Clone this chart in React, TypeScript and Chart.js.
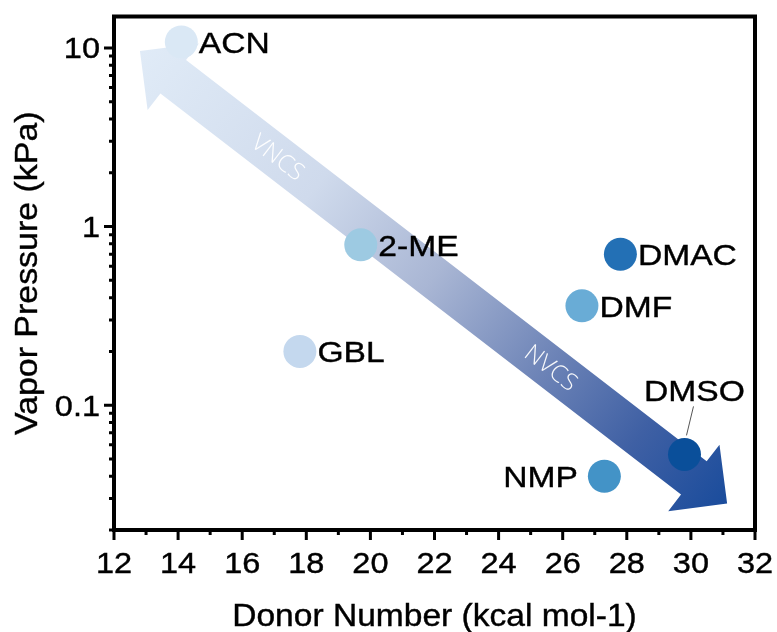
import { useEffect, useRef } from "react";
import { Chart, registerables } from "chart.js";

Chart.register(...registerables);

// Solvents: Gutmann donor number vs. vapor pressure
const solvents = ["ACN", "GBL", "2-ME", "DMF", "DMAC", "NMP", "DMSO"];
const donorNumber = [14.1, 17.8, 19.7, 26.6, 27.8, 27.3, 29.8];
const vaporPressure = [10.8, 0.2, 0.79, 0.36, 0.7, 0.04, 0.053];
const pointColors = ["#dae8f5", "#c4d8ee", "#9dcae2", "#69acd6", "#2370b5", "#4393c7", "#0a4f9a"];

// Axis ranges and ticks
const xRange = [12, 32];
const yRange = [0.02, 15];
const xMajorTicks = [12, 14, 16, 18, 20, 22, 24, 26, 28, 30, 32];
const xMinorTicks = [13, 15, 17, 19, 21, 23, 25, 27, 29, 31];
const yMajorTicks = [0.1, 1, 10];
const yMinorTicks = [
  0.02, 0.03, 0.04, 0.05, 0.06, 0.07, 0.08, 0.09,
  0.2, 0.3, 0.4, 0.5, 0.6, 0.7, 0.8, 0.9,
  2, 3, 4, 5, 6, 7, 8, 9,
];
const yTickLabels = ["0.1", "1", "10"];

// Trend arrow: end points in data units (upper-left tip, lower-right tip)
const arrowFrom = { x: 12.81, y: 9.6 };
const arrowTo = { x: 31.13, y: 0.0281 };
const arrowLabels = [
  { text: "VNCS", at: 0.235 },
  { text: "NVCS", at: 0.7 },
];

const xTitle = "Donor Number (kcal mol-1)";
const yTitle = "Vapor Pressure (kPa)";

// where each solvent name sits relative to its marker
const labelSide: Record<string, "right" | "left" | "above"> = {
  ACN: "right",
  GBL: "right",
  "2-ME": "right",
  DMF: "right",
  DMAC: "right",
  NMP: "left",
  DMSO: "above",
};

const FONT = '"Liberation Sans", Arial, Helvetica, sans-serif';
const POINT_RADIUS = 16.5;

function drawText(
  ctx: CanvasRenderingContext2D,
  text: string,
  x: number,
  y: number,
  align: CanvasTextAlign,
  size: number,
  rotation = 0,
  stretch = 1.12
) {
  ctx.save();
  ctx.translate(x, y);
  ctx.rotate(rotation);
  ctx.scale(stretch, 1);
  ctx.font = `${size}px ${FONT}`;
  ctx.fillStyle = "#000";
  ctx.strokeStyle = "#000";
  ctx.lineWidth = 0.4;
  ctx.textAlign = align;
  ctx.textBaseline = "alphabetic";
  ctx.fillText(text, 0, 0);
  ctx.strokeText(text, 0, 0);
  ctx.restore();
}

const arrowPlugin = {
  id: "trendArrow",
  beforeDatasetsDraw(chart: any) {
    const { ctx, scales } = chart;
    const x0 = scales.x.getPixelForValue(arrowFrom.x);
    const y0 = scales.y.getPixelForValue(arrowFrom.y);
    const x1 = scales.x.getPixelForValue(arrowTo.x);
    const y1 = scales.y.getPixelForValue(arrowTo.y);
    const len = Math.hypot(x1 - x0, y1 - y0);
    const ux = (x1 - x0) / len;
    const uy = (y1 - y0) / len;
    const nx = -uy;
    const ny = ux;
    const headLen = 42;
    const headHalf = 42;
    const shaftHalf = 21;
    const p = (base: [number, number], along: number, side: number): [number, number] => [
      base[0] + ux * along + nx * side,
      base[1] + uy * along + ny * side,
    ];
    const A: [number, number] = [x0, y0];
    const B: [number, number] = [x1, y1];
    const pts = [
      A,
      p(A, headLen, headHalf),
      p(A, headLen, shaftHalf),
      p(B, -headLen, shaftHalf),
      p(B, -headLen, headHalf),
      B,
      p(B, -headLen, -headHalf),
      p(B, -headLen, -shaftHalf),
      p(A, headLen, -shaftHalf),
      p(A, headLen, -headHalf),
    ];
    const grad = ctx.createLinearGradient(x0, y0, x1, y1);
    grad.addColorStop(0, "#e0ebf7");
    grad.addColorStop(0.3, "#cfdaec");
    grad.addColorStop(0.5, "#a9b6d4");
    grad.addColorStop(0.7, "#6b82b6");
    grad.addColorStop(0.85, "#3f60a4");
    grad.addColorStop(1, "#1a4c9c");
    ctx.save();
    ctx.beginPath();
    ctx.moveTo(pts[0][0], pts[0][1]);
    for (let i = 1; i < pts.length; i++) ctx.lineTo(pts[i][0], pts[i][1]);
    ctx.closePath();
    ctx.fillStyle = grad;
    ctx.fill();

    const angle = Math.atan2(y1 - y0, x1 - x0);
    for (const lab of arrowLabels) {
      const cx = x0 + (x1 - x0) * lab.at;
      const cy = y0 + (y1 - y0) * lab.at;
      ctx.save();
      ctx.translate(cx, cy);
      ctx.rotate(angle);
      ctx.font = '300 24px "Open Sans", "Noto Sans", sans-serif';
      ctx.fillStyle = "rgba(255,255,255,0.95)";
      ctx.textAlign = "center";
      ctx.textBaseline = "middle";
      ctx.fillText(lab.text, 0, 1);
      ctx.restore();
    }
    ctx.restore();
  },
  afterDatasetsDraw(chart: any) {
    const { ctx, scales, chartArea } = chart;
    const { left, right, top, bottom } = chartArea;

    // solvent names
    const meta = chart.getDatasetMeta(0);
    meta.data.forEach((el: any, i: number) => {
      const name = solvents[i];
      const side = labelSide[name];
      const cx = el.x;
      const cy = el.y;
      const size = 30;
      const mid = cy + 0.358 * size;
      if (side === "right") {
        drawText(ctx, name, cx + POINT_RADIUS + 1, mid, "left", size);
      } else if (side === "left") {
        drawText(ctx, name, cx - POINT_RADIUS - 10, mid, "right", size);
      } else {
        drawText(ctx, name, cx + 10, cy - 53, "center", size);
        ctx.save();
        ctx.strokeStyle = "#555";
        ctx.lineWidth = 1;
        ctx.beginPath();
        ctx.moveTo(cx + 9, cy - 48);
        ctx.lineTo(cx + 2, cy - 19);
        ctx.stroke();
        ctx.restore();
      }
    });

    ctx.save();
    // frame
    ctx.strokeStyle = "#000";
    ctx.lineWidth = 4;
    ctx.strokeRect(left, top, right - left, bottom - top);

    // tick marks (outward, left and bottom)
    ctx.lineWidth = 3;
    ctx.lineCap = "butt";
    ctx.beginPath();
    for (const v of xMajorTicks) {
      const px = scales.x.getPixelForValue(v);
      ctx.moveTo(px, bottom);
      ctx.lineTo(px, bottom + 10);
    }
    for (const v of xMinorTicks) {
      const px = scales.x.getPixelForValue(v);
      ctx.moveTo(px, bottom);
      ctx.lineTo(px, bottom + 5);
    }
    for (const v of yMajorTicks) {
      const py = scales.y.getPixelForValue(v);
      ctx.moveTo(left, py);
      ctx.lineTo(left - 10, py);
    }
    for (const v of yMinorTicks) {
      const py = scales.y.getPixelForValue(v);
      ctx.moveTo(left, py);
      ctx.lineTo(left - 5, py);
    }
    ctx.stroke();
    ctx.restore();

    // tick labels
    for (const v of xMajorTicks) {
      drawText(ctx, String(v), scales.x.getPixelForValue(v), bottom + 43, "center", 29);
    }
    yMajorTicks.forEach((v, i) => {
      const py = scales.y.getPixelForValue(v);
      drawText(ctx, yTickLabels[i], left - 14, py + 0.358 * 29, "right", 29);
    });

    // axis titles
    drawText(ctx, xTitle, (left + right) / 2, bottom + 96, "center", 30.5, 0, 1.1);
    drawText(ctx, yTitle, 37, (top + bottom) / 2, "center", 32, -Math.PI / 2, 1.06);
  },
};

export default function App() {
  const canvasRef = useRef<HTMLCanvasElement | null>(null);

  useEffect(() => {
    document.body.style.margin = "0";
    const canvas = canvasRef.current;
    if (!canvas) return;
    const chart = new Chart(canvas, {
      type: "scatter",
      data: {
        datasets: [
          {
            data: solvents.map((_, i) => ({ x: donorNumber[i], y: vaporPressure[i] })),
            backgroundColor: pointColors,
            borderWidth: 0,
            pointRadius: POINT_RADIUS,
            pointHoverRadius: POINT_RADIUS,
          },
        ],
      },
      options: {
        responsive: false,
        animation: false,
        devicePixelRatio: 1,
        events: [],
        layout: { padding: { left: 0, right: 22, top: 15, bottom: 0 } },
        plugins: {
          legend: { display: false },
          tooltip: { enabled: false },
          title: { display: false },
        },
        scales: {
          x: {
            type: "linear",
            min: xRange[0],
            max: xRange[1],
            grid: { display: false },
            border: { display: false },
            ticks: { display: false },
            afterFit: (s: any) => {
              s.height = 102;
              s.paddingLeft = 0;
              s.paddingRight = 0;
            },
          },
          y: {
            type: "logarithmic",
            min: yRange[0],
            max: yRange[1],
            grid: { display: false },
            border: { display: false },
            ticks: { display: false },
            afterFit: (s: any) => {
              s.width = 114;
              s.paddingTop = 0;
              s.paddingBottom = 0;
            },
          },
        },
      },
      plugins: [arrowPlugin],
    });
    return () => chart.destroy();
  }, []);

  return (
    <canvas
      ref={canvasRef}
      width={777}
      height={632}
      style={{ display: "block", width: 777, height: 632 }}
    />
  );
}
